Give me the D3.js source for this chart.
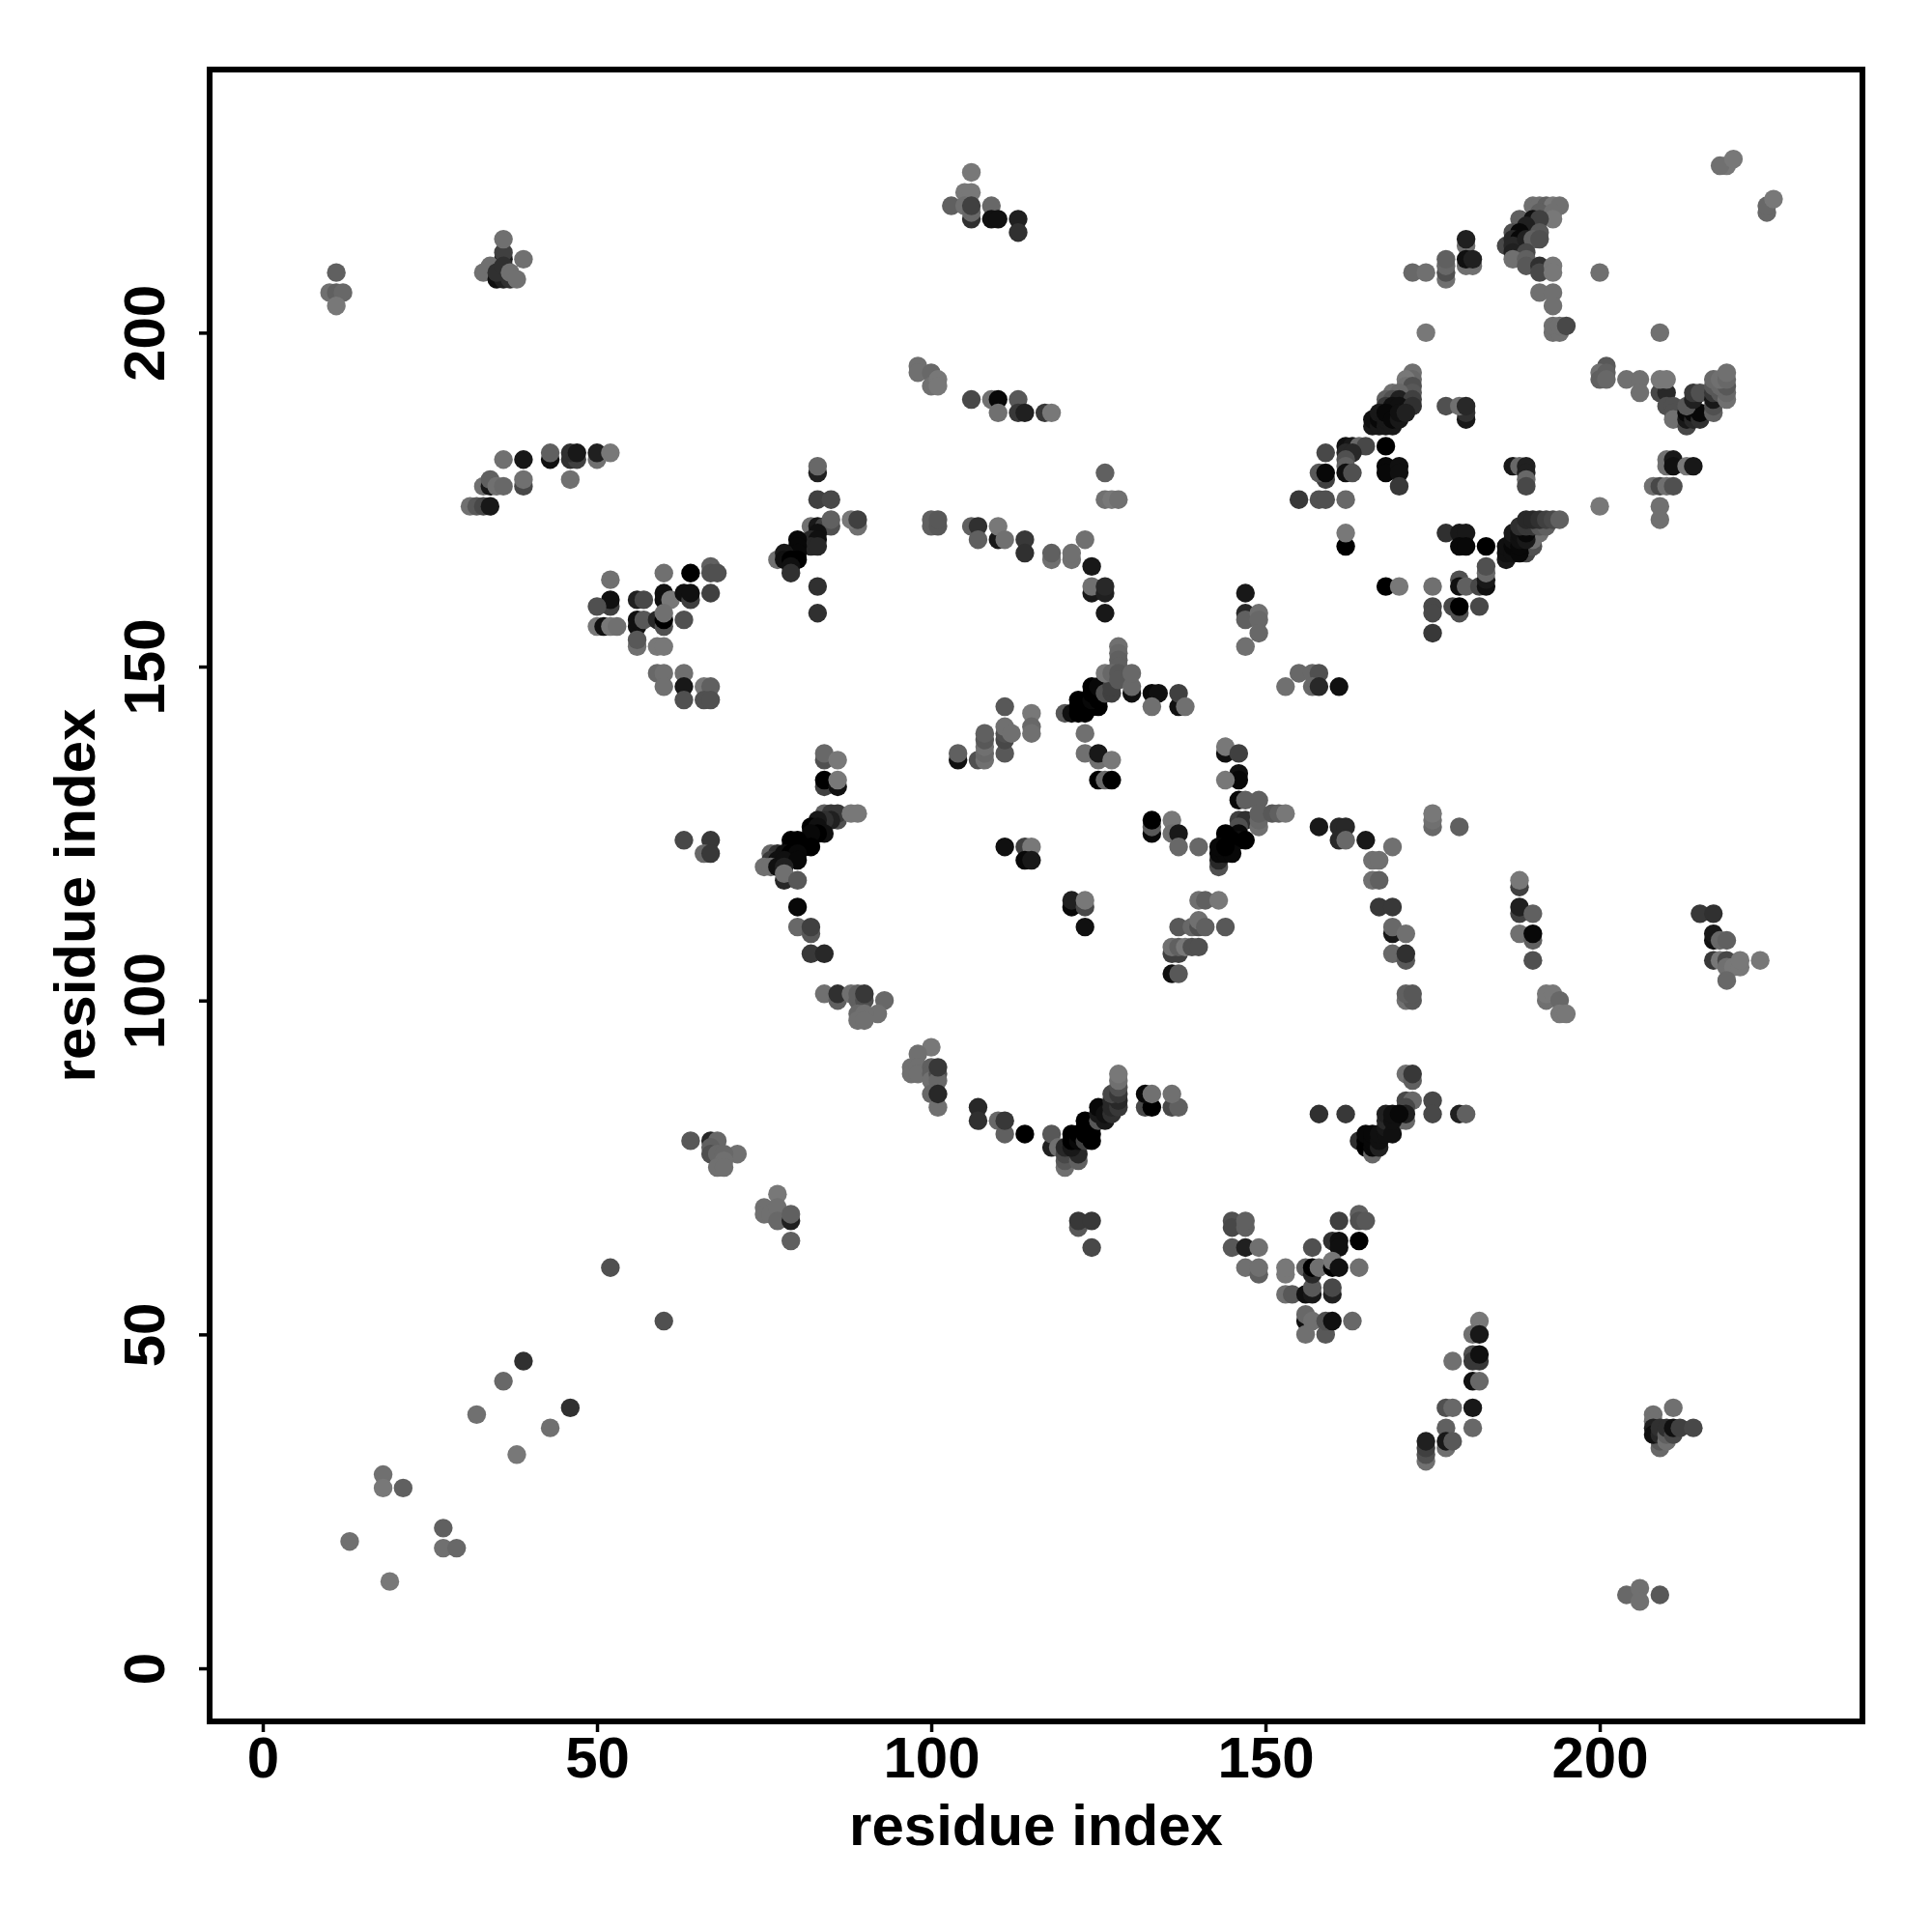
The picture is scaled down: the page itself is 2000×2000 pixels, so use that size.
<!DOCTYPE html>
<html>
<head>
<meta charset="utf-8">
<script src="https://cdn.jsdelivr.net/npm/d3@7/dist/d3.min.js"></script>
<style>html,body{margin:0;background:#fff}svg{display:block}</style>
</head>
<body>
<div id="chart"></div>
<script>
// Each contact: [residue i, residue j, shade level 0 (darkest) .. 16 (lightest)]
const xAxisTitle = "residue index";
const yAxisTitle = "residue index";
const tickValuesX = [0, 50, 100, 150, 200];
const tickValuesY = [0, 50, 100, 150, 200];

const groupN = [[11,209,12],[10,206,14],[11,206,12],[12,206,13],[11,204,15]];
const groupA = [[36,211,3],[36,212,8],[36,214,14],[39,211,14],[34,210,14],[33,209,14],[35,208,2],[36,208,4],[35,209,6],[36,210,6],[37,208,6],[37,209,14],[38,208,14]];
const groupB = [[43,181,2],[43,182,12],[46,181,6],[47,181,8],[46,182,6],[47,182,3],[50,181,14],[50,182,4],[52,182,15],[36,181,14],[39,181,3],[46,178,14],[39,177,9],[39,178,14],[33,177,14],[34,177,3],[34,178,12],[35,177,14],[36,177,13],[31,174,14],[32,174,11],[33,174,9],[34,174,3]];
const groupC = [[52,163,14],[52,159,8],[52,160,2],[50,159,10],[50,156,15],[51,156,2],[52,156,15],[53,156,14],[56,160,4],[57,160,9],[56,156,2],[56,157,2],[57,157,11],[56,153,14],[56,154,11],[59,157,5],[60,164,14],[64,164,0],[67,165,12],[67,164,10],[68,164,10],[60,161,2],[60,160,2],[61,160,15],[63,161,2],[64,160,8],[64,161,2],[67,161,8],[60,156,10],[60,157,0],[60,158,14],[63,157,10],[59,153,15],[60,153,15],[59,149,13],[60,149,14],[63,149,14],[60,147,14],[63,147,3],[63,145,10],[66,147,15],[67,147,12],[66,145,10],[67,145,10]];
const groupD = [[84,136,10],[84,137,13],[86,136,15],[84,132,8],[84,133,0],[86,132,2],[86,133,15],[84,128,12],[85,128,7],[86,127,10],[86,128,7],[88,128,15],[89,128,15],[85,127,4],[84,127,6],[83,127,3],[82,126,0],[83,126,2],[84,125,2],[83,125,0],[82,125,1],[79,124,0],[80,124,0],[79,123,0],[80,123,0],[81,123,0],[82,123,0],[76,122,13],[77,122,6],[78,122,2],[79,122,0],[80,122,1],[76,121,7],[77,121,2],[78,121,2],[80,121,1],[75,120,14],[76,120,14],[77,120,2],[78,118,5],[78,120,4],[78,119,14],[80,118,11]];
const groupE = [[80,114,1],[80,111,13],[82,110,11],[82,111,8],[82,107,7],[84,107,5],[84,101,14],[86,100,12],[86,101,6],[88,101,14],[89,100,12],[89,101,12],[90,100,10],[90,101,7],[93,100,13],[92,98,14],[89,98,13],[90,98,14],[89,97,14],[90,97,14]];
const groupF = [[63,124,9],[67,124,7],[66,122,13],[67,122,7],[104,136,2],[104,137,12]];
const groupG = [[107,136,10],[108,136,14],[108,137,13],[108,138,14],[108,139,11],[108,140,12],[111,144,11],[111,137,11],[111,139,9],[111,140,10],[111,141,14],[112,140,14],[115,143,15],[115,141,13],[115,140,14]];
const groupH = [[120,143,11],[121,143,2],[122,143,0],[123,143,0],[122,145,0],[122,144,0],[123,144,0],[124,144,0],[125,144,0],[124,145,1],[125,145,0],[124,146,0],[124,147,0],[125,147,1],[126,146,10],[127,146,8],[127,147,8],[128,153,14],[128,152,13],[128,151,12],[128,150,12],[126,149,15],[127,149,13],[128,149,11],[128,148,11],[130,146,2],[130,147,13],[130,149,13],[133,146,1],[134,146,2],[133,144,14],[137,144,2],[137,146,8],[138,144,14]];
const groupI = [[123,140,14],[123,137,14],[125,136,14],[125,137,3],[127,136,15],[125,133,0],[126,133,13],[127,133,0]];
const groupJ = [[133,125,1],[133,126,11],[133,127,0],[136,127,15],[136,125,14],[137,125,3],[137,123,13],[140,123,13],[144,137,2],[144,138,15],[146,137,8],[146,134,2],[146,133,1],[144,133,15],[146,130,1],[147,130,12],[149,130,12]];
const groupK = [[146,127,8],[147,127,6],[149,126,14],[149,127,13],[149,128,12],[151,128,11],[152,128,12],[153,128,15],[146,126,10],[146,125,1],[146,124,2],[147,124,0],[144,125,0],[145,124,0],[144,124,0],[143,120,10],[143,121,5],[143,122,1],[144,122,1],[145,122,1],[143,123,1],[144,123,0]];
const groupL = [[158,126,3],[161,126,5],[162,126,5],[161,124,5],[162,124,13],[165,124,3],[169,123,14],[166,121,14],[167,121,14],[166,118,14],[167,118,12],[167,114,7],[169,114,7],[169,110,3],[169,111,13],[171,110,14],[169,107,13],[171,106,11],[171,107,6],[171,100,14],[172,100,11],[171,101,12],[172,101,11],[175,126,13],[175,127,14],[175,128,15],[179,126,12]];
const groupM = [[111,123,2],[114,123,8],[115,123,15],[114,121,1],[115,121,3],[121,114,1],[121,115,4],[123,114,9],[123,115,15],[123,111,2],[140,115,14],[141,115,12],[143,115,15],[137,111,11],[139,111,13],[140,111,10],[140,112,14],[141,111,12],[144,111,11],[136,107,8],[137,107,8],[136,108,14],[137,108,12],[138,108,15],[139,108,10],[140,108,10],[136,104,2],[137,104,11]];
const groupO = [[153,147,14],[155,149,13],[157,149,13],[158,149,10],[157,147,13],[158,147,5],[161,147,2],[147,161,3],[147,158,5],[147,157,12],[147,153,14],[149,158,14],[149,157,13],[149,155,13]];
const groupP = [[106,224,15],[105,221,15],[106,221,15],[103,219,12],[105,219,14],[106,217,6],[106,218,13],[106,219,8],[109,219,13],[109,217,2],[110,217,2],[113,217,4],[113,215,6]];
const groupQ = [[98,195,14],[98,194,14],[100,194,13],[100,192,14],[101,193,15],[101,192,15],[106,190,9],[109,190,14],[110,190,1],[113,190,11],[110,188,14],[113,188,7],[114,188,4],[117,188,7],[118,188,15]];
const groupR = [[83,179,4],[83,180,13],[83,175,8],[85,175,9],[82,171,14],[83,171,3],[84,171,8],[85,171,10],[85,172,12],[89,171,14],[88,172,15],[89,172,8],[83,170,2],[82,169,5],[83,169,2],[82,168,5],[83,168,5],[80,169,1],[80,168,1],[80,167,1],[80,166,0],[77,166,14],[78,167,3],[78,166,2],[79,166,0],[79,165,2],[79,164,6],[83,162,6],[83,158,6]];
const groupS = [[100,171,12],[100,172,12],[101,171,11],[101,172,11],[106,171,12],[107,171,6],[107,169,12],[110,169,3],[110,171,15],[111,169,14],[114,169,7],[114,167,6],[118,166,14],[118,167,12],[121,166,14],[121,167,14],[123,169,14],[124,165,3],[124,161,3],[124,162,14],[126,161,4],[126,162,5],[126,158,3],[126,179,12],[126,175,14],[127,175,15],[128,175,14]];
const groupT = [[219,225,15],[218,225,14],[220,226,15],[225,218,13],[225,219,13],[226,220,15],[190,219,14],[191,219,14],[192,219,12],[193,219,15],[194,219,14],[191,218,12],[193,218,14],[193,217,15],[188,217,12],[190,217,2],[191,217,8],[189,216,4],[187,215,10],[188,215,1],[191,215,11],[186,213,9],[187,214,5],[188,214,1],[187,213,5],[189,214,4],[190,214,12],[191,214,10],[187,212,4],[189,212,9],[187,211,14],[189,211,12],[189,210,11],[191,210,6],[191,209,9],[193,210,15],[193,209,15],[191,206,14],[193,206,14],[193,204,14],[193,200,14],[194,200,14],[193,201,14],[194,201,14],[195,201,9],[174,200,15],[209,200,14],[200,209,14]];
const groupU = [[172,209,13],[174,209,14],[177,208,14],[177,209,10],[177,210,13],[177,211,12],[180,213,14],[180,214,4],[180,210,14],[181,210,14],[180,211,2],[181,211,4]];
const groupV = [[172,194,14],[172,193,13],[171,193,15],[171,192,14],[172,192,10],[172,191,11],[169,191,14],[170,191,13],[168,190,12],[169,190,10],[170,190,4],[172,190,8],[168,189,7],[169,189,2],[170,189,2],[172,189,6],[166,186,3],[166,187,2],[167,186,3],[167,187,1],[167,188,3],[168,186,3],[168,187,3],[168,188,1],[169,186,3],[169,187,1],[170,187,3],[170,188,2],[171,188,4],[180,187,3],[180,188,6],[177,189,10],[179,189,14],[180,189,5]];
const groupW = [[168,183,0],[162,183,2],[163,183,3],[164,183,13],[165,183,9],[162,182,5],[163,182,5],[159,182,9],[159,178,8],[158,179,11],[159,179,1],[162,181,10],[162,180,12],[162,179,2],[163,179,10],[168,180,1],[168,179,1],[170,180,2],[170,179,2],[170,177,7],[155,175,7],[158,175,10],[159,175,10],[162,175,13],[162,168,0],[162,170,15],[168,162,0],[170,162,15],[175,162,14],[175,159,9],[175,158,9],[175,155,7],[178,159,9],[179,158,10],[179,159,0],[182,159,9],[179,163,10],[179,162,2],[180,162,12],[182,162,9],[183,162,2],[183,163,3],[183,164,13],[183,165,10],[177,170,6],[179,170,3],[180,170,3],[179,168,1],[180,168,1],[183,168,0]];
const groupX = [[189,167,9],[189,168,14],[190,168,10],[190,169,14],[190,170,13],[191,170,14],[186,166,3],[186,167,2],[186,168,2],[187,167,2],[187,168,1],[187,169,2],[187,170,3],[188,167,1],[188,168,1],[188,169,2],[188,170,2],[189,169,3],[189,170,1],[188,171,6],[189,171,7],[190,171,7],[191,171,11],[192,171,12],[189,172,5],[190,172,5],[191,172,6],[192,172,8],[193,172,9],[194,172,12]];
const groupY = [[201,195,11],[200,194,14],[201,194,12],[200,193,12],[201,193,13],[204,193,14],[206,193,14],[206,191,14],[209,191,9],[210,191,5],[209,193,15],[210,193,15],[210,189,10],[211,189,10],[211,188,10],[211,187,14]];
const groupZ = [[213,186,9],[213,187,3],[213,188,1],[214,187,5],[214,188,1],[215,187,6],[215,188,1],[213,189,11],[214,190,4],[214,191,7],[215,191,10],[217,188,12],[217,189,10],[217,190,3],[217,191,7],[218,191,11],[219,190,14],[219,191,13],[217,192,11],[218,192,13],[219,192,11],[217,193,13],[218,193,14],[219,193,13],[219,194,14]];
const groupAA = [[210,181,14],[210,180,14],[211,181,3],[211,180,2],[213,180,15],[214,180,3],[208,177,14],[209,177,9],[210,177,14],[211,177,10],[209,174,14],[209,172,14],[200,174,15],[187,180,3],[188,180,13],[189,180,4],[189,179,4],[189,178,13],[189,177,9]];
const groupAB = [[188,117,8],[188,118,15],[188,113,8],[188,114,4],[190,113,12],[188,110,14],[190,109,12],[190,110,1],[190,106,10],[192,100,14],[192,101,15],[193,101,15],[194,100,13],[194,98,15],[195,98,15]];
const groupAC = [[215,113,7],[217,113,6],[217,109,2],[217,110,3],[218,109,13],[219,109,12],[217,106,7],[218,106,15],[219,106,9],[219,105,14],[220,105,15],[221,105,15],[221,106,15],[224,106,15],[219,103,13]];
const groupAD = [[100,93,15],[98,92,14],[97,90,14],[97,89,14],[98,90,14],[98,89,14],[100,90,12],[100,89,12],[100,88,14],[101,89,10],[101,88,13],[101,90,7],[100,86,13],[101,84,14],[101,86,5],[107,84,5],[107,82,6],[110,82,13],[111,80,12],[111,82,7],[114,80,0]];
const groupAE = [[118,78,4],[118,80,11],[119,78,14],[120,75,14],[120,76,11],[120,77,9],[120,78,5],[122,76,12],[122,77,5],[121,78,3],[121,79,0],[121,80,0],[122,79,1],[122,80,0],[123,79,8],[123,80,0],[123,81,0],[123,82,0],[124,79,0],[124,80,0],[124,81,0],[125,82,11],[125,83,3],[125,84,1],[126,82,3],[126,83,2],[127,83,6],[127,84,5],[127,85,5],[128,84,7],[128,85,5],[127,86,9],[128,86,7],[128,87,10],[128,88,14],[128,89,15]];
const groupAF = [[132,84,9],[133,84,0],[132,86,1],[133,86,14],[136,84,9],[137,84,12],[136,86,14],[122,66,11],[122,67,7],[124,67,7],[124,63,9]];
const groupAG = [[158,83,6],[162,83,7],[171,89,14],[172,88,12],[172,89,7],[171,85,9],[172,85,13],[171,84,9],[170,82,14],[171,82,13],[171,83,4],[175,85,9],[175,83,9],[179,83,4],[180,83,12]];
const groupAH = [[164,79,6],[165,78,0],[165,79,0],[165,80,1],[166,77,13],[166,78,1],[166,79,1],[166,80,1],[167,78,4],[167,79,2],[167,80,2],[168,80,2],[168,81,3],[168,82,5],[168,83,4],[169,80,2],[169,82,2],[169,83,2],[170,83,1]];
const groupAI = [[145,67,10],[145,66,9],[147,66,12],[147,67,12],[145,63,11],[147,63,4],[149,63,14],[147,60,14],[149,59,12],[149,60,14],[153,59,15],[153,60,15],[153,56,14],[154,56,11],[156,56,2],[157,56,3],[157,57,11],[157,63,10],[156,60,12],[157,59,5],[157,60,0],[158,60,14],[160,56,4],[160,57,9],[156,52,2],[156,53,13],[157,52,14],[156,50,14],[159,50,11],[159,52,10],[160,52,2],[163,52,13]];
const groupAJ = [[161,67,8],[164,68,12],[164,67,10],[165,67,11],[160,64,6],[161,64,2],[161,63,2],[164,64,0],[160,60,0],[160,61,15],[161,60,2],[164,60,14]];
const groupAK = [[182,52,15],[181,50,14],[182,50,3],[181,47,10],[182,46,7],[181,46,7],[182,47,2],[178,46,14],[181,43,2],[182,43,13],[177,39,10],[178,39,13],[181,39,3],[181,36,13],[177,36,12],[177,33,14],[177,34,3],[178,34,11],[174,31,14],[174,32,10],[174,33,8],[174,34,4]];
const groupAL = [[208,38,14],[208,37,14],[211,39,14],[209,33,13],[209,34,11],[208,36,4],[208,35,2],[209,35,5],[209,36,6],[210,34,14],[210,35,12],[210,36,6],[211,35,9],[211,36,2],[212,36,8],[214,36,9]];
const groupAM = [[64,79,11],[67,79,5],[68,79,13],[67,78,12],[67,77,10],[68,77,13],[71,77,14],[69,77,13],[69,76,14],[68,75,14],[69,75,14],[77,71,15],[75,69,14],[75,68,14],[76,68,14],[77,69,14],[77,67,13],[79,67,4],[79,68,12],[79,64,12]];
const groupAN = [[52,60,10],[60,52,10],[39,46,6],[36,43,13],[32,38,14],[46,39,6],[43,36,14],[38,32,15],[18,29,14],[18,27,15],[21,27,12],[27,21,12],[27,18,14],[29,18,13],[13,19,14],[19,13,15],[204,11,13],[206,12,14],[206,10,14],[209,11,11]];

const contacts = [].concat(groupN,groupA,groupB,groupC,groupD,groupE,groupF,groupG,groupH,groupI,groupJ,groupK,groupL,groupM,groupO,groupP,groupQ,groupR,groupS,groupT,groupU,groupV,groupW,groupX,groupY,groupZ,groupAA,groupAB,groupAC,groupAD,groupAE,groupAF,groupAG,groupAH,groupAI,groupAJ,groupAK,groupAL,groupAM,groupAN);

const width = 2000, height = 2000;
const box = {left: 217, right: 1928, top: 72, bottom: 1782};
const x = d3.scaleLinear().domain([-7.95, 239.3]).range([box.left, box.right]);
const y = d3.scaleLinear().domain([-7.95, 239.4]).range([box.bottom, box.top]);
const shade = d3.scaleLinear().domain([0, 16]).range(["#000000", "#808080"]);
const font = "'Liberation Sans', Arial, sans-serif";

const svg = d3.select("#chart").append("svg").attr("width", width).attr("height", height);

svg.append("g").selectAll("circle").data(contacts).join("circle")
  .attr("cx", d => x(d[0])).attr("cy", d => y(d[1])).attr("r", 9.7)
  .attr("fill", d => shade(d[2]));

const gx = svg.append("g").attr("transform", `translate(0,${box.bottom})`)
  .call(d3.axisBottom(x).tickValues(tickValuesX).tickSize(11).tickPadding(0).tickFormat(d3.format("d")));
const gy = svg.append("g").attr("transform", `translate(${box.left},0)`)
  .call(d3.axisLeft(y).tickValues(tickValuesY).tickSize(11).tickPadding(0).tickFormat(d3.format("d")));
[gx, gy].forEach(g => {
  g.select(".domain").remove();
  g.selectAll("line").attr("stroke", "#000").attr("stroke-width", 3.5);
  g.selectAll("text").attr("font-family", font).attr("font-weight", 700).attr("font-size", 60).attr("fill", "#000");
});
gx.selectAll("text").attr("y", 0).attr("dy", 0).attr("transform", "translate(0,58)").attr("text-anchor", "middle");
gy.selectAll("text").attr("x", 0).attr("dy", 0).attr("text-anchor", "middle").attr("transform", "translate(-47,0) rotate(-90)");

svg.append("rect").attr("x", box.left).attr("y", box.top)
  .attr("width", box.right - box.left).attr("height", box.bottom - box.top)
  .attr("fill", "none").attr("stroke", "#000").attr("stroke-width", 6);

svg.append("text").attr("x", (box.left + box.right) / 2).attr("y", 1910)
  .attr("text-anchor", "middle").attr("font-family", font).attr("font-weight", 700).attr("font-size", 60).text(xAxisTitle);
svg.append("text").attr("transform", `translate(98,${(box.top + box.bottom) / 2}) rotate(-90)`)
  .attr("text-anchor", "middle").attr("font-family", font).attr("font-weight", 700).attr("font-size", 60).text(yAxisTitle);
</script>
</body>
</html>
